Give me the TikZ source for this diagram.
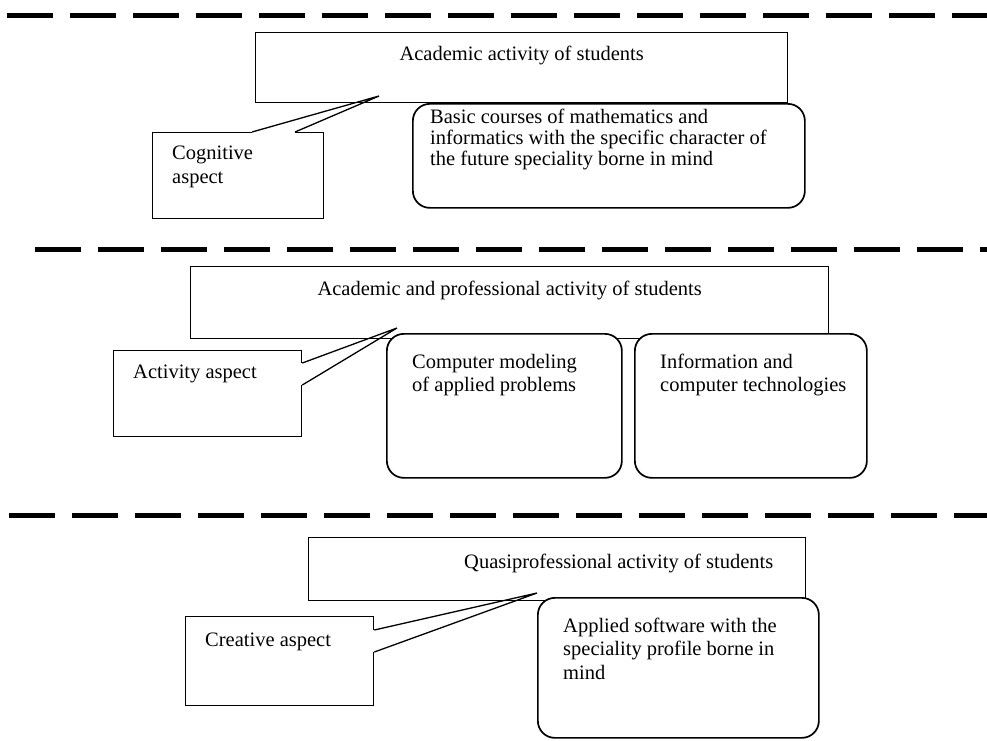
\documentclass[tikz,border=0pt]{standalone}
\usepackage{fontspec}
\setmainfont{Liberation Serif}
\usetikzlibrary{positioning}
\tikzset{
    sep-line/.style = {line width=5pt, dash pattern=on 46pt off 17pt},
    activity-box/.style = {draw, line width=1.3pt, rectangle, anchor=north west, inner sep=0pt},
    course-box/.style = {draw, fill=white, line width=1.7pt, rectangle, rounded corners=17pt, anchor=north west, inner sep=0pt},
    aspect-box/.style = {draw, line width=1.3pt, rectangle, anchor=north west, inner sep=0pt},
    aspect-line/.style = {line width=1.3pt, line join=miter},
    title-text/.style = {inner sep=0pt, font=\fontsize{20.5}{23.3}\selectfont},
    box-text/.style = {inner sep=0pt, anchor=north west, align=left, font=\fontsize{20.5}{23.3}\selectfont},
}

\begin{document}
\begin{tikzpicture}[x=1pt, y=-1pt]
\useasboundingbox (0,0) rectangle (987,740);

% separators between the levels
\foreach \y/\x in {15/7, 249/35, 515/9}
    \draw[sep-line] (\x,\y) -- (987,\y);

% level 1
\node[activity-box, minimum width=532pt, minimum height=70pt] (acad) at (255,32) {};
\node[title-text, anchor=base] (acadtitle) at ([yshift=-28pt]acad.north) {Academic activity of students};
\node[course-box, minimum width=392pt, minimum height=104pt] (basic) at (412,103) {};
\node[box-text, font=\fontsize{20.5}{20.7}\selectfont] (basictext) at ([xshift=18pt, yshift=-6pt]basic.north west)
    {Basic courses of mathematics and\\informatics with the specific character of\\the future speciality borne in mind};
\node[aspect-box, minimum width=171pt, minimum height=86pt] (cognitive) at (152,132) {};
\node[box-text] (cognitivetext) at ([xshift=20pt, yshift=-14pt]cognitive.north west) {Cognitive\\aspect};
\coordinate (cognitivea) at ([xshift=100pt]cognitive.north west);
\coordinate (cognitiveb) at ([xshift=143pt]cognitive.north west);
\coordinate (cognitivetip) at (379,96);
\draw[white, line width=2.2pt] (cognitivea) -- (cognitiveb);
\draw[aspect-line] (cognitivea) -- (cognitivetip) -- (cognitiveb);

% level 2
\node[activity-box, minimum width=638pt, minimum height=72pt] (prof) at (190,266) {};
\node[title-text, anchor=base] (proftitle) at ([yshift=-29pt]prof.north) {Academic and professional activity of students};
\node[course-box, minimum width=235pt, minimum height=144pt] (modeling) at (386,333) {};
\node[box-text] (modelingtext) at ([xshift=26pt, yshift=-21pt]modeling.north west) {Computer modeling\\of applied problems};
\node[course-box, minimum width=232pt, minimum height=144pt] (infotech) at (634,333) {};
\node[box-text] (infotechtext) at ([xshift=26pt, yshift=-21pt]infotech.north west) {Information and\\computer technologies};
\node[aspect-box, minimum width=188pt, minimum height=86pt] (activity) at (113,350) {};
\node[box-text] (activitytext) at ([xshift=20pt, yshift=-15pt]activity.north west) {Activity aspect};
\coordinate (activitya) at ([yshift=-13pt]activity.north east);
\coordinate (activityb) at ([yshift=-35pt]activity.north east);
\coordinate (activitytip) at (397,328);
\draw[white, line width=2.2pt] (activitya) -- (activityb);
\draw[aspect-line] (activitya) -- (activitytip) -- (activityb);

% level 3
\node[activity-box, minimum width=497pt, minimum height=63pt] (quasi) at (308,537) {};
\node[title-text, anchor=base west] (quasititle) at ([xshift=156pt, yshift=-31pt]quasi.north west) {Quasiprofessional activity of students};
\node[course-box, minimum width=281pt, minimum height=140pt] (software) at (537,597) {};
\node[box-text] (softwaretext) at ([xshift=26pt, yshift=-21pt]software.north west)
    {Applied software with the\\speciality profile borne in\\mind};
\node[aspect-box, minimum width=188pt, minimum height=89pt] (creative) at (185,616) {};
\node[box-text] (creativetext) at ([xshift=20pt, yshift=-17pt]creative.north west) {Creative aspect};
\coordinate (creativea) at ([yshift=-14pt]creative.north east);
\coordinate (creativeb) at ([yshift=-36pt]creative.north east);
\coordinate (creativetip) at (537,593);
\draw[white, line width=2.2pt] (creativea) -- (creativeb);
\draw[aspect-line] (creativea) -- (creativetip) -- (creativeb);
\end{tikzpicture}
\end{document}
